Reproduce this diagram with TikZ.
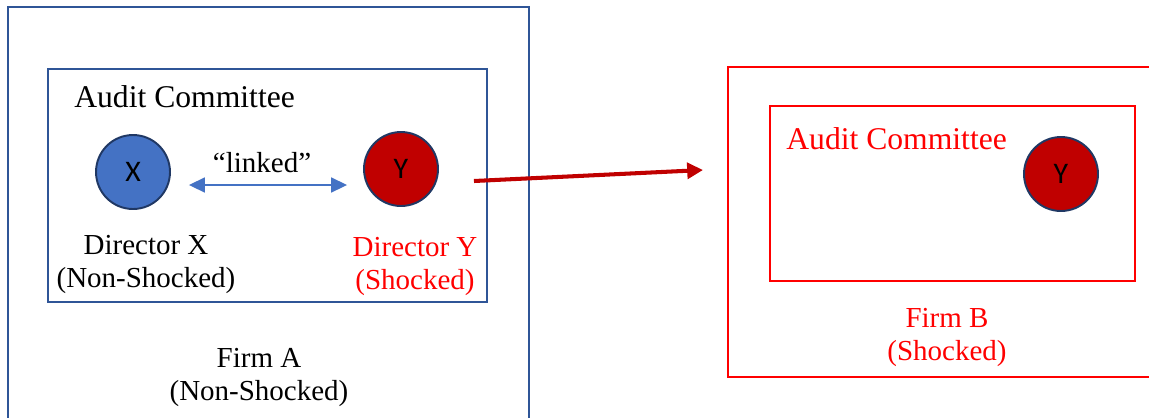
\documentclass[tikz,border=0pt]{standalone}
\usepackage{fontspec}
\setmainfont{Liberation Serif}
\newfontfamily\circlefont{Carlito}
\definecolor{frameBlue}{RGB}{47, 85, 151}
\definecolor{directorBlue}{RGB}{68, 114, 196}
\definecolor{edgeNavy}{RGB}{32, 56, 100}
\definecolor{shockRed}{RGB}{192, 0, 0}
\definecolor{labelRed}{RGB}{255, 0, 0}
\usepackage{tikz}
\usetikzlibrary{arrows.meta,positioning}

\begin{document}
\begin{tikzpicture}[x=0.02cm,y=-0.02cm,
                firmbox/.style={line width=1.2pt},
                director/.style={circle,draw=edgeNavy,line width=1.1pt,minimum size=1.48cm,
                              inner sep=0pt,font=\circlefont\fontsize{17}{17}\selectfont},
                roletext/.style={font=\fontsize{16.5}{18.8}\selectfont,align=center},
                committee/.style={font=\fontsize{18}{20}\selectfont,anchor=base west,inner sep=0pt},
                linkarrow/.style={draw=directorBlue,line width=0.8pt,
                              {Triangle[length=9pt,width=8.5pt]}-{Triangle[length=9pt,width=8.5pt]}},
                shockarrow/.style={draw=shockRed,line width=2.3pt,-{Triangle[length=9pt,width=9pt]}}
            ]
                \useasboundingbox (0,0) rectangle (1149,417);
                \clip (0,0) rectangle (1149,417);
                % firm A (non-shocked)
                \draw[firmbox,frameBlue] (8,7) rectangle (529,440);
                \draw[firmbox,frameBlue] (48,69) rectangle (487,302);
                \node[committee] (acA) at (74,107) {Audit Committee};
                \node[director,fill=directorBlue] (dirX) at (133,172) {X};
                \node[director,fill=shockRed] (dirYA) at (401,169) {Y};
                \draw[linkarrow] ([shift={(18,13)}]dirX.east) -- ([shift={(-16,16)}]dirYA.west);
                \node[roletext,anchor=base] (linked) at (262,172) {``linked''};
                \node[roletext] (nameX) at (146,264) {Director X\\(Non-Shocked)};
                \node[roletext,text=labelRed] (nameY) at (415,266) {Director Y\\(Shocked)};
                \node[roletext] (firmA) at (259,377) {Firm A\\(Non-Shocked)};
                % firm B (shocked)
                \draw[firmbox,labelRed] (728,67) rectangle (1175,377);
                \draw[firmbox,labelRed] (770,106) rectangle (1135,281);
                \node[committee,text=labelRed] (acB) at (786,149) {Audit Committee};
                \node[director,fill=shockRed] (dirYB) at (1061,174) {Y};
                \node[roletext,text=labelRed] (firmB) at (947,337) {Firm B\\(Shocked)};
                % director Y sits on both committees
                \coordinate (shockend) at (703,170);
                \draw[shockarrow] ([shift={(35,12)}]dirYA.east) -- (shockend);
            \end{tikzpicture}
\end{document}
